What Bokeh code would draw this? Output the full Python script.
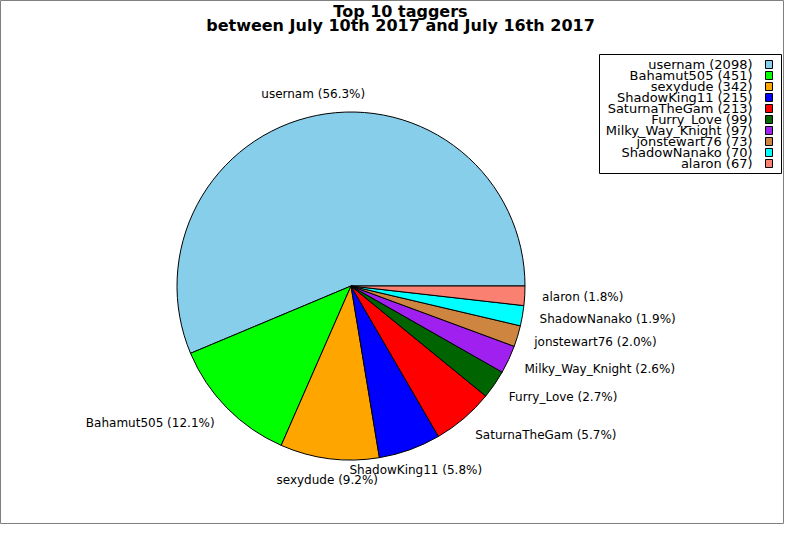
import math
from bokeh.plotting import figure
from bokeh.models import Range1d, ColumnDataSource
from bokeh.core.properties import value
from bokeh.embed import file_html
from bokeh.resources import INLINE

# ---- data ----
names = ["usernam", "Bahamut505", "sexydude", "ShadowKing11", "SaturnaTheGam",
         "Furry_Love", "Milky_Way_Knight", "jonstewart76", "ShadowNanako", "alaron"]
counts = [2098, 451, 342, 215, 213, 99, 97, 73, 70, 67]
colors = ["#87CEEB", "#00FF00", "#FFA500", "#0000FF", "#FF0000",
          "#006400", "#A020F0", "#CD853F", "#00FFFF", "#FA8072"]
title_lines = ["Top 10 taggers", "between July 10th 2017 and July 16th 2017"]

# ---- layout (page pixels, y downwards) ----
W, H = 784, 524


def Y(py):
    return H - py


cx, cy, R = 350.5, Y(285.5), 174.0
FONT = value("DejaVu Sans")

p = figure(width=W, height=H, output_backend="svg", toolbar_location=None,
           x_range=Range1d(0, W), y_range=Range1d(0, H),
           x_axis_location=None, y_axis_location=None, min_border=0)
p.grid.visible = False
p.outline_line_color = "#808080"
p.outline_line_width = 1
p.background_fill_color = "white"
p.border_fill_color = "white"

total = sum(counts)
starts, ends, lx, ly, ltext, lalign = [], [], [], [], [], []
acc = 0.0
for n, c in zip(names, counts):
    frac = c / total
    a0 = acc * 2 * math.pi
    a1 = (acc + frac) * 2 * math.pi
    acc += frac
    starts.append(a0)
    ends.append(a1)
    mid = (a0 + a1) / 2
    co, si = math.cos(mid), math.sin(mid)
    lx.append(cx + 1.1 * R * co)
    ly.append(cy + (1.1 * R + 4) * si)
    ltext.append(f"{n} ({frac * 100:.1f}%)")
    if abs(co) < 0.5:
        lalign.append("center")
    elif co > 0:
        lalign.append("left")
    else:
        lalign.append("right")

src = ColumnDataSource(dict(start=starts, end=ends, color=colors))
p.wedge(x=cx, y=cy, radius=R, start_angle="start", end_angle="end",
        fill_color="color", line_color="black", line_width=1, source=src)

lsrc = ColumnDataSource(dict(x=lx, y=ly, text=ltext, align=lalign))
p.text(x="x", y="y", text="text", text_align="align", text_baseline="middle",
       text_font=FONT, text_font_size=value("12px"), text_color="black",
       source=lsrc)

# ---- title ----
p.text(x=[400] * 2, y=[Y(11), Y(25)], text=title_lines,
       text_align="center", text_baseline="alphabetic",
       text_font=FONT, text_font_size=value("16px"), text_font_style="bold",
       text_color="black")

# ---- legend (text right aligned, swatch on the right) ----
shift = -14
box_l, box_r, box_t, box_b = 613 + shift, 795 + shift, 54, 173
p.quad(left=[box_l], right=[box_r], top=[Y(box_t)], bottom=[Y(box_b)],
       fill_color="white", line_color="black", line_width=1)
row0, row_h = 64, 11
leg_y = [Y(row0 + row_h * i) for i in range(len(names))]
leg_text = [f"{n} ({c})" for n, c in zip(names, counts)]
p.text(x=[766 + shift] * len(names), y=leg_y, text=leg_text,
       text_align="right", text_baseline="middle",
       text_font=FONT, text_font_size=value("13px"), text_color="black")
p.rect(x=[782.5 + shift] * len(names), y=leg_y, width=7, height=8,
       fill_color=colors, line_color="black", line_width=1)

open("out.html", "w").write(file_html(p, INLINE))
